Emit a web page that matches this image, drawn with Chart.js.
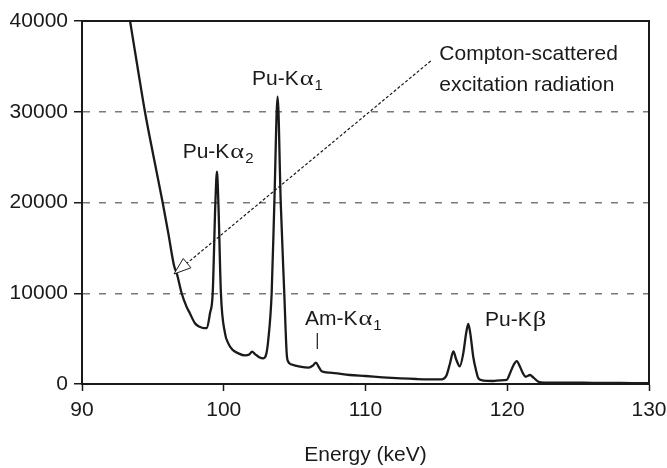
<!DOCTYPE html>
<html>
<head>
<meta charset="utf-8">
<script src="https://cdn.jsdelivr.net/npm/chart.js@4.4.1/dist/chart.umd.min.js"></script>
<style>
  html, body { margin: 0; padding: 0; background: #fff; }
  #spectrum { display: block; }
</style>
</head>
<body>
<canvas id="spectrum" width="667" height="468"></canvas>
<script>
// Pu/Am K x-ray spectrum (counts vs. energy)
const energy = [
  93.39, 93.9, 94.44, 95.03, 95.69, 96.09, 96.5, 96.7, 97.03, 97.38, 97.6, 97.97, 98.3, 98.6, 98.8,
  99.03, 99.22, 99.41, 99.52, 99.62, 99.8, 100.09, 100.32, 100.6, 101.03, 101.5, 101.8, 102.0, 102.2, 102.5, 102.8,
  103.0, 103.14, 103.38, 103.57, 103.8, 104.02, 104.27, 104.44, 104.55, 104.8, 105.38, 106.0, 106.3, 106.5, 106.7,
  106.9, 107.5, 108.9, 110.0, 111.2, 112.5, 113.6, 114.5, 115.4, 115.7, 115.95, 116.2, 116.4, 116.65, 116.9,
  117.1, 117.25, 117.4, 117.6, 117.8, 117.96, 118.3, 119.0, 119.5, 119.96, 120.2, 120.45, 120.67, 120.9, 121.1,
  121.3, 121.6, 121.85, 122.2, 122.6, 124.0, 126.0, 128.0, 130.0
];
const counts = [
  40000, 35100, 30000, 25200, 20000, 16600, 13000, 12100, 10000, 8500, 7820, 6690, 6300, 6150, 6170,
  7790, 10000, 20000, 23400, 20000, 10000, 5580, 4480, 3800, 3380, 3150, 3250, 3560, 3300, 2950, 2830,
  3300, 4850, 10000, 20000, 31660, 20000, 10000, 3380, 2460, 2150, 1910, 1800, 2050, 2350, 1900,
  1400, 1250, 990, 880, 740, 620, 550, 520, 520, 900, 2200, 3600, 2700, 1950, 3400,
  5600, 6610, 5500, 3000, 1500, 630, 380, 330, 400, 450, 1200, 2100, 2530, 1900, 1200,
  800, 990, 700, 250, 150, 150, 130, 110, 100
];

const xTicks = [90, 100, 110, 120, 130];
const yTicks = [0, 10000, 20000, 30000, 40000];

// peak labels: [name, greek letter, subscript, keV, counts at baseline]
const peakLabels = [
  ['Pu-K', '\u03b1', '2', 97.10, 24870],
  ['Pu-K', '\u03b1', '1', 101.99, 32950],
  ['Am-K', '\u03b1', '1', 105.73, 6500],
  ['Pu-K', '\u03b2', '', 118.43, 6390]
];
const amMarker = [106.6, 5620, 3860];
const comptonText = ['Compton-scattered', 'excitation radiation'];
const comptonPos = [115.21, 35700, 32320];
const comptonArrow = [114.6, 35590, 96.49, 12120];

const FONT = '"Liberation Sans", Arial, Helvetica, sans-serif';
const GREEK = '"Liberation Serif", "Times New Roman", serif';
const INK = '#1a1a1a';

const points = energy.map((e, i) => ({ x: e, y: counts[i] }));

// frame, peak names and the dashed arrow
const extras = {
  id: 'extras',
  afterDraw(chart) {
    const { ctx, chartArea: a, scales: { x, y } } = chart;
    ctx.save();
    ctx.strokeStyle = INK;
    ctx.lineWidth = 2;
    ctx.beginPath();
    ctx.moveTo(a.left, a.top);
    ctx.lineTo(a.right, a.top);
    ctx.lineTo(a.right, a.bottom);
    ctx.stroke();

    ctx.fillStyle = INK;
    ctx.textBaseline = 'alphabetic';
    ctx.textAlign = 'left';
    peakLabels.forEach(([name, greek, sub, e, c]) => {
      let px = x.getPixelForValue(e);
      const py = y.getPixelForValue(c);
      ctx.font = '21px ' + FONT;
      ctx.fillText(name, px, py);
      px += ctx.measureText(name).width + 1;
      // symbol-style greek letter, a little wider than the serif glyph
      ctx.font = '22px ' + GREEK;
      const gw = ctx.measureText(greek).width;
      ctx.save();
      ctx.translate(px, py);
      ctx.scale(1.2, 1);
      ctx.fillText(greek, 0, 0);
      ctx.restore();
      px += gw * 1.2 + 1;
      if (sub) {
        ctx.font = '15px ' + FONT;
        ctx.fillText(sub, px, py + 5);
      }
    });

    ctx.font = '21px ' + FONT;
    ctx.fillText(comptonText[0], x.getPixelForValue(comptonPos[0]), y.getPixelForValue(comptonPos[1]));
    ctx.fillText(comptonText[1], x.getPixelForValue(comptonPos[0]), y.getPixelForValue(comptonPos[2]));

    // marker under Am label
    ctx.lineWidth = 1.2;
    ctx.beginPath();
    ctx.moveTo(x.getPixelForValue(amMarker[0]), y.getPixelForValue(amMarker[1]));
    ctx.lineTo(x.getPixelForValue(amMarker[0]), y.getPixelForValue(amMarker[2]));
    ctx.stroke();

    // dashed arrow with open head
    const x0 = x.getPixelForValue(comptonArrow[0]), y0 = y.getPixelForValue(comptonArrow[1]);
    const x1 = x.getPixelForValue(comptonArrow[2]), y1 = y.getPixelForValue(comptonArrow[3]);
    const ang = Math.atan2(y1 - y0, x1 - x0);
    const len = 17, half = 6;
    const bx = x1 - Math.cos(ang) * len, by = y1 - Math.sin(ang) * len;
    ctx.setLineDash([3, 2]);
    ctx.lineWidth = 1.2;
    ctx.beginPath();
    ctx.moveTo(x0, y0);
    ctx.lineTo(bx, by);
    ctx.stroke();
    ctx.setLineDash([]);
    ctx.lineWidth = 1;
    ctx.beginPath();
    ctx.moveTo(x1, y1);
    ctx.lineTo(bx - Math.sin(ang) * half, by + Math.cos(ang) * half);
    ctx.lineTo(bx + Math.sin(ang) * half, by - Math.cos(ang) * half);
    ctx.closePath();
    ctx.fillStyle = '#fff';
    ctx.fill();
    ctx.stroke();
    ctx.restore();
  }
};

new Chart(document.getElementById('spectrum'), {
  type: 'line',
  data: {
    datasets: [{
      data: points,
      borderColor: INK,
      borderWidth: 2.3,
      pointRadius: 0,
      cubicInterpolationMode: 'monotone',
      fill: false
    }]
  },
  options: {
    responsive: false,
    animation: false,
    events: [],
    layout: { padding: { top: 21, right: 18, left: 0, bottom: 0 } },
    plugins: { legend: { display: false }, tooltip: { enabled: false } },
    scales: {
      x: {
        type: 'linear',
        min: 90,
        max: 130,
        afterBuildTicks: s => { s.ticks = xTicks.map(v => ({ value: v })); },
        afterFit: s => { s.height = 84; s.paddingRight = 0; s.paddingLeft = 0; },
        ticks: { color: INK, font: { family: FONT, size: 21 }, padding: 7, maxRotation: 0,
                 callback: v => String(v) },
        grid: { drawOnChartArea: false, tickLength: 7, tickColor: INK, tickWidth: 1.5 },
        border: { color: INK, width: 2 },
        title: {
          display: true,
          text: 'Energy (keV)',
          color: INK,
          font: { family: FONT, size: 21 },
          padding: { top: 0, bottom: 0 }
        }
      },
      y: {
        min: 0,
        max: 40000,
        afterBuildTicks: s => { s.ticks = yTicks.map(v => ({ value: v })); },
        afterFit: s => { s.width = 82; s.paddingTop = 0; s.paddingBottom = 0; },
        ticks: { color: INK, font: { family: FONT, size: 21 }, padding: 6,
                 callback: v => String(v) },
        grid: {
          color: c => (c.tick && (c.tick.value === 0 || c.tick.value === 40000)) ? 'rgba(0,0,0,0)' : '#7a7a7a',
          lineWidth: 1.5,
          tickLength: 8,
          tickColor: INK,
          tickWidth: 1.5
        },
        border: { color: INK, width: 2, dash: [7, 9] }
      }
    }
  },
  plugins: [extras]
});
</script>
</body>
</html>
